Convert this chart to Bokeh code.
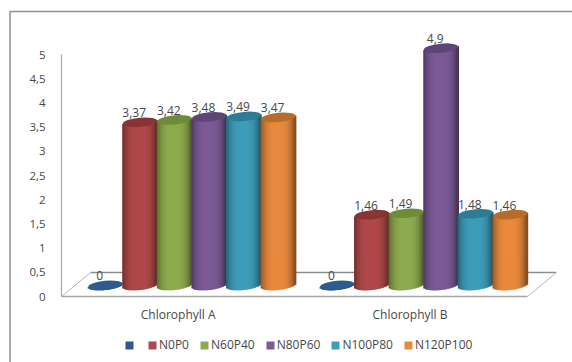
import math

from bokeh.core.properties import value
from bokeh.embed import file_html
from bokeh.models import FixedTicker, Legend, LegendItem
from bokeh.plotting import figure
from bokeh.resources import INLINE

# Chlorophyll content per fertiliser treatment
categories = ["Chlorophyll A", "Chlorophyll B"]
series_names = [" ", "N0P0", "N60P40", "N80P60", "N100P80", "N120P100"]
chlorophyll_a = [0, 3.37, 3.42, 3.48, 3.49, 3.47]
chlorophyll_b = [0, 1.46, 1.49, 4.9, 1.48, 1.46]
y_ticks = [0, 0.5, 1, 1.5, 2, 2.5, 3, 3.5, 4, 4.5, 5]

body_colors = ["#2c5c8e", "#b0494a", "#8fab4f", "#7b5a97", "#3f9db9", "#e98a3d"]
cap_colors = ["#2c5c8e", "#8a3334", "#6f8a38", "#5e4578", "#2d7c96", "#b76c2b"]

FONT = "Open Sans"
TEXT = "#484848"
GROUP_STEP = 6.7      # distance between the two groups, in bar widths
BASE = 0.23           # the cylinders stand this far back on the floor
CAP_H = 0.19          # minor axis of a cylinder's ellipse, in value units
TILT = 0.04           # slight upward lean of the ellipses towards the right
STRIPES = 24

# The plot area fills the page, so the frame and legend share the data space
X_LEFT, X_RIGHT = -3.0347, 13.497
Y_BOTTOM, Y_TOP = -1.3636, 6.1157
FRAME_X, FRAME_Y = -2.76, 5.888
AXIS_X = -1.27


def comma(v):
    return f"{v:g}".replace(".", ",")


def shade(color, t):
    """Darken a colour towards the edges of a cylinder; t runs from -1 to 1."""
    factor = 1 - 0.38 * abs(t) ** 3.2 - (0.10 * t ** 3 if t > 0 else 0)
    rgb = [int(color[i:i + 2], 16) for i in (1, 3, 5)]
    return "#%02x%02x%02x" % tuple(int(c * factor) for c in rgb)


p = figure(
    width=572, height=362, output_backend="svg", toolbar_location=None,
    x_range=(X_LEFT, X_RIGHT), y_range=(Y_BOTTOM, Y_TOP),
    min_border=0, background_fill_color="white", border_fill_color="white",
)
p.grid.visible = False
p.outline_line_color = None

# Outer chart frame: only its top and left edges fall inside the page
p.line([FRAME_X, FRAME_X, X_RIGHT], [Y_BOTTOM, FRAME_Y, FRAME_Y],
       line_color="#909090", line_width=1.5)

p.yaxis.fixed_location = AXIS_X
p.yaxis.ticker = FixedTicker(ticks=y_ticks)
p.yaxis.major_label_overrides = {t: comma(t) for t in y_ticks}
p.yaxis.bounds = (0, 5)
p.yaxis.axis_line_color = "#a6a6a6"
p.yaxis.axis_line_width = 1.2
p.yaxis.major_tick_line_color = None
p.yaxis.minor_tick_line_color = None
p.yaxis.major_label_standoff = 10
p.yaxis.major_label_text_font = FONT
p.yaxis.major_label_text_font_size = "11.5px"
p.yaxis.major_label_text_color = TEXT

group_ticks = [2.1, 2.1 + GROUP_STEP]
p.xaxis.fixed_location = 0
p.xaxis.ticker = FixedTicker(ticks=group_ticks)
p.xaxis.major_label_overrides = dict(zip(group_ticks, categories))
p.xaxis.bounds = (AXIS_X, 12.2)
p.xaxis.axis_line_color = "#a6a6a6"
p.xaxis.axis_line_width = 1.5
p.xaxis.major_tick_line_color = None
p.xaxis.minor_tick_line_color = None
p.xaxis.major_label_standoff = 3
p.xaxis.major_label_text_font = FONT
p.xaxis.major_label_text_font_size = "12px"
p.xaxis.major_label_text_color = TEXT

# Floor of the 3D plot
p.line([-0.43, 13.03], [0.496, 0.496], line_color="#8c8c8c", line_width=1.5)
p.line([AXIS_X, -0.43], [0, 0.496], line_color="#b5b5b5", line_width=1)
p.line([12.2, 13.03], [0, 0.496], line_color="#b5b5b5", line_width=1)

groups = [chlorophyll_a, chlorophyll_b]

# Value labels go first so that neighbouring cylinders can overlap them
for g, values in enumerate(groups):
    xs = [g * GROUP_STEP + i - 0.17 for i in range(len(values))]
    ys = [BASE + v + 0.2 for v in values]
    p.text(xs, ys, text=[comma(v) for v in values],
           text_font=value(FONT), text_font_size="12px", text_color=TEXT,
           text_align="center", text_baseline="middle")

for g, values in enumerate(groups):
    for i, v in enumerate(values):
        xc = g * GROUP_STEP + i
        dx = 1.0 / STRIPES
        # The body is a run of thin shaded columns whose lower ends follow the ellipse
        for k in range(STRIPES):
            t = -1 + (2 * k + 1) / STRIPES
            bulge = CAP_H / 2 * math.sqrt(1 - t * t)
            p.vbar(x=[xc + t / 2], width=dx * 1.8,
                   bottom=[BASE + TILT * t - bulge], top=[BASE + v + TILT * t],
                   fill_color=shade(body_colors[i], t), line_color=None)
        p.ellipse(x=[xc], y=[BASE + v], width=[1.0], height=[CAP_H], angle=0.09,
                  fill_color=cap_colors[i], line_color=None)

# The legend swatches use the flat body colours
legend_items = []
for i, name in enumerate(series_names):
    swatch = p.vbar(x=[0], width=0, bottom=[0], top=[0],
                    fill_color=body_colors[i], line_color=None)
    legend_items.append(LegendItem(label=name, renderers=[swatch]))

legend = Legend(
    items=legend_items, orientation="horizontal", location=(124, 9),
    background_fill_alpha=0, border_line_color=None,
    glyph_width=10, glyph_height=10, label_width=1, label_height=10,
    label_standoff=2, spacing=10, padding=0, margin=0,
    label_text_font=FONT, label_text_font_size="12px", label_text_color=TEXT,
)
p.add_layout(legend, "center")

open("out.html", "w").write(file_html(p, INLINE))
